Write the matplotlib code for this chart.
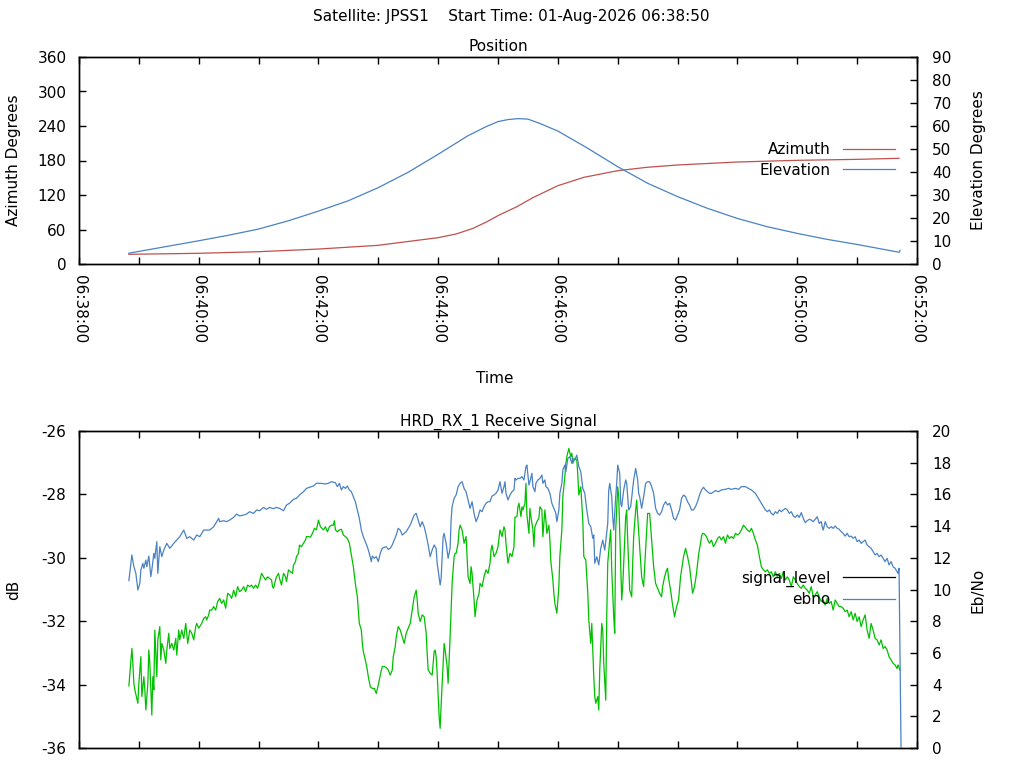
import matplotlib
matplotlib.use("Agg")
import matplotlib.pyplot as plt
from matplotlib.ticker import FixedLocator, FuncFormatter
from matplotlib.lines import Line2D

plt.rcParams['font.family'] = ['DejaVu Sans']
plt.rcParams['axes.unicode_minus'] = False

# ---------------- data (time = seconds after 06:38:00) ----------------
suptitle = "Satellite: JPSS1    Start Time: 01-Aug-2026 06:38:50"

az_t = [50, 120, 180, 240, 300, 360, 378, 395, 409, 421, 439, 455, 480, 506, 540,
        569, 600, 660, 720, 780, 822]
az_v = [16.9, 18.6, 21.4, 26.0, 32.5, 45.8, 52.2, 62.0, 73.6, 85.0, 99.7, 115.4,
        136.2, 150.7, 162.3, 168.1, 172.2, 177.4, 180.3, 182.0, 183.8]

el_t = [50, 120, 151, 180, 210, 240, 270, 300, 330, 360, 390, 408, 420, 430, 440,
        450, 462, 480, 510, 540, 570, 600, 630, 660, 690, 720, 750, 780, 822, 823]
el_v = [4.7, 10.1, 12.6, 15.2, 18.8, 23.0, 27.5, 33.2, 39.9, 47.7, 55.8, 59.7, 61.9,
        62.8, 63.2, 63.0, 61.1, 57.8, 50.3, 42.3, 35.1, 29.3, 24.2, 19.8, 16.2, 13.3,
        10.7, 8.5, 5.1, 5.9]

ebno_t = [50, 53, 55, 57, 59, 61, 62, 64, 65, 67, 68, 70, 72, 73, 75, 76, 78, 79, 81, 83,
          85, 88, 91, 95, 98, 101, 105, 108, 111, 115, 118, 121, 125, 128, 131, 135, 138,
          140, 141, 145, 148, 151, 155, 158, 161, 165, 168, 171, 175, 178, 181, 185, 188,
          191, 195, 198, 201, 205, 208, 211, 215, 218, 221, 225, 228, 231, 235, 238, 242,
          247, 250, 253, 257, 259, 261, 263, 265, 267, 269, 271, 273, 275, 277, 279, 281,
          283, 285, 287, 289, 291, 293, 294, 296, 298, 300, 302, 304, 306, 308, 310, 312,
          314, 316, 318, 320, 322, 324, 326, 328, 330, 332, 334, 336, 338, 340, 342, 344,
          346, 348, 350, 352, 354, 356, 358, 359, 360, 362, 363, 365, 366, 368, 370, 372,
          373, 374, 376, 378, 380, 382, 384, 386, 388, 390, 392, 394, 396, 398, 400, 402,
          404, 406, 408, 410, 412, 414, 416, 418, 420, 422, 424, 426, 427, 428, 430, 432,
          434, 436, 437, 438, 440, 442, 444, 446, 448, 449, 451, 452, 454, 455, 457, 458,
          460, 462, 464, 465, 467, 468, 470, 472, 474, 476, 478, 479, 481, 482, 484, 485,
          487, 488, 490, 492, 494, 495, 497, 499, 501, 503, 505, 507, 509, 511, 513, 515,
          516, 517, 519, 521, 523, 525, 527, 528, 530, 531, 532, 534, 535, 536, 538, 539,
          540, 542, 543, 544, 546, 548, 549, 551, 553, 555, 556, 558, 560, 561, 562, 564,
          566, 568, 570, 572, 574, 576, 578, 580, 582, 584, 586, 588, 590, 592, 594, 596,
          598, 600, 602, 604, 606, 608, 610, 612, 614, 616, 618, 620, 622, 624, 626, 628,
          630, 632, 634, 638, 641, 644, 648, 651, 654, 658, 661, 664, 668, 671, 674, 678,
          680, 682, 684, 686, 688, 690, 692, 694, 696, 698, 700, 702, 704, 706, 708, 710,
          712, 714, 716, 718, 720, 722, 724, 726, 728, 730, 732, 734, 736, 738, 740, 742,
          744, 745, 746, 748, 750, 752, 754, 756, 758, 760, 762, 764, 766, 768, 770, 772,
          774, 776, 778, 780, 782, 784, 786, 788, 790, 792, 794, 796, 798, 800, 802, 804,
          806, 808, 810, 812, 814, 816, 818, 820, 821, 822, 823, 824]
ebno_v = [10.56, 12.18, 11.44, 11.02, 9.97, 10.39, 11.23, 11.65, 11.34, 11.86, 11.44, 12.11,
          10.81, 11.23, 12.28, 11.97, 13.02, 11.02, 12.70, 12.07, 12.49, 12.91, 12.60, 12.91,
          13.12, 13.33, 13.75, 13.23, 13.33, 13.12, 13.44, 13.33, 13.75, 13.75, 13.75, 13.96,
          14.28, 14.49, 14.28, 14.34, 14.28, 14.38, 14.55, 14.76, 14.64, 14.70, 14.76, 14.91,
          14.80, 15.02, 14.97, 15.18, 15.06, 15.18, 15.10, 15.18, 15.12, 14.97, 15.33, 15.44,
          15.69, 15.75, 15.96, 16.17, 16.38, 16.45, 16.53, 16.70, 16.70,
          16.66, 16.70, 16.80, 16.74, 16.49, 16.70, 16.28, 16.49, 16.38, 16.53, 16.28, 16.17,
          15.86, 15.54, 15.02, 14.49, 13.75, 13.33, 13.02, 12.70, 12.28, 11.76, 12.11, 11.97,
          12.07, 11.76, 12.28, 12.60, 12.66, 12.70, 12.53, 12.60, 12.81, 13.12, 13.44, 13.86,
          13.75, 13.44, 13.54, 13.65, 13.86, 14.07, 14.38, 14.70, 14.80, 14.38, 13.96, 14.28,
          13.96, 13.44, 12.81, 12.07, 12.49, 12.81, 12.60, 11.65, 11.23, 10.28, 10.70, 13.33,
          13.54, 12.91, 11.97, 12.60, 14.38, 15.23, 15.75, 15.96, 16.49, 16.70, 16.80, 16.38,
          16.17, 15.65, 15.12, 15.54, 14.80, 14.28, 14.59, 15.02, 14.91, 15.23, 15.44, 15.54,
          15.54, 15.90, 15.96, 16.07, 16.28, 16.80, 16.07, 16.49, 16.80, 16.07, 15.65, 15.96,
          16.17, 16.28, 17.01,
          16.91, 17.01, 17.01, 17.12, 16.91, 17.75, 17.85, 16.59, 16.80, 17.33, 16.49, 16.17,
          16.70, 16.91, 17.01, 17.22, 16.70, 16.91, 16.49, 16.38, 16.07, 15.44, 15.12, 14.80,
          14.28, 15.02, 16.07, 16.70, 17.54, 17.85, 17.43, 18.27, 18.38, 17.96, 18.27, 18.17,
          18.48, 17.75, 17.43, 16.38, 16.07, 15.02, 14.17, 13.96, 13.23, 13.44, 11.65, 12.07,
          11.55, 12.60, 13.12, 12.49, 13.02, 14.17, 16.28, 16.70, 15.86, 14.59, 13.75, 15.86,
          16.70, 17.85, 17.33, 15.44, 15.23, 16.28, 16.91, 16.70, 15.02, 15.23, 16.38, 16.91,
          17.64, 16.91, 16.07, 15.86, 15.12, 15.86, 16.70, 16.80, 16.80, 16.49, 16.07, 15.12,
          14.80, 14.70, 14.91, 15.33, 15.54, 15.33, 15.44, 15.02, 14.49, 14.38, 14.70, 15.02,
          15.75, 15.96, 15.86, 15.54, 15.33, 15.02, 15.02, 15.23, 15.54, 15.96, 16.28, 16.45,
          16.28, 16.17, 16.07,
          16.07, 16.24, 16.17, 16.28, 16.32, 16.38, 16.32, 16.38, 16.32, 16.49, 16.49, 16.38,
          16.28, 16.07, 15.86, 15.65, 15.44, 15.23, 15.02, 14.91, 15.02, 14.80, 14.70, 14.91,
          14.80, 15.02, 14.91, 15.02, 15.12, 15.02, 14.80, 14.91, 14.64, 14.55, 14.70, 14.55,
          14.85, 14.49, 14.22, 14.34, 14.43, 14.38, 14.28, 14.43, 14.59, 14.17, 14.28, 13.96,
          13.75, 14.28, 13.96, 13.86, 13.96, 13.86, 14.01, 13.86, 13.80, 13.65, 13.54, 13.37,
          13.54, 13.33, 13.37, 13.23, 13.33, 13.02, 13.12, 12.91, 13.02, 13.12, 12.81, 12.70,
          12.60, 12.39, 12.18, 12.28, 12.07, 12.18, 11.97, 11.76, 11.97, 11.55, 11.76, 11.44,
          11.34, 11.12, 11.02, 11.34, 5.66, 0.0]

sig_t = [50, 53, 54, 55, 56, 59, 60, 61, 62, 63, 65, 66, 67, 69, 70, 71, 73, 74, 75, 76,
         78, 79, 81, 82, 83, 85, 87, 88, 90, 91, 93, 95, 97, 98, 100, 101, 103, 105, 107,
         108, 109, 111, 113, 115, 117, 118, 120, 121, 123, 125, 127, 128, 130, 131, 133,
         135, 137, 139, 141, 143, 145, 147, 149, 151, 153, 155, 157, 159, 161, 163, 165,
         167, 169, 171, 173, 175, 177, 179, 181, 183, 185, 187, 189, 191, 193, 194, 195,
         197, 198, 200, 201, 203, 205, 207, 208, 210, 212, 214, 215, 217, 218, 220, 221,
         223, 225, 227, 228, 230, 232, 234, 236, 238, 240, 242, 245, 247, 249, 251, 253,
         255, 256, 257, 259, 261, 263, 265, 267, 269, 271, 273, 275, 277, 279, 280, 281,
         283, 284, 285, 287, 289, 290, 292, 294, 296, 298, 300, 302, 304, 306, 308, 310,
         312, 314, 315, 317, 318, 320, 322, 324, 326, 328, 330, 332, 334, 336, 338, 339,
         340, 342, 344, 346, 348, 349, 350, 352, 354, 356, 357, 358, 359, 361, 362, 363,
         365, 366, 367, 369, 370, 372, 373, 374, 376, 377, 378, 380, 381, 382, 384, 386,
         388, 389, 390, 392, 393, 394, 396, 397, 399, 401, 402, 404, 406, 408, 410, 412,
         413, 414, 416, 418, 420, 422, 424, 426, 427, 428, 430, 432, 434, 436, 437, 439,
         440, 441, 443, 444, 445, 447, 448, 449, 451, 452, 453, 455, 456, 457, 459, 461,
         462, 464, 465, 467, 468, 469, 471, 472, 473, 475, 476, 477, 479, 481, 482, 484,
         485, 487, 488, 489, 491, 493, 494, 495, 497, 499, 500, 501, 503, 505, 506, 508,
         510, 511, 513, 514, 516, 517, 518, 520, 521, 522, 524, 525, 526, 528, 529, 530,
         532, 533, 534, 536, 537, 538, 540, 541, 542, 544, 545, 546, 548, 549, 550, 552,
         554, 555, 556, 558, 559, 560, 562, 564, 566, 567, 569, 570, 572, 573, 574, 576,
         578, 580, 582, 584, 585, 587, 589, 590, 591, 593, 595, 597, 599, 601, 603, 604,
         606, 608, 610, 612, 614, 615, 617, 619, 621, 623, 624, 625, 627, 629, 631, 632,
         634, 636, 638, 640, 642, 644, 646, 648, 650, 652, 654, 656, 658, 660, 662, 664,
         666, 668, 670, 672, 674, 676, 678, 680, 682, 684, 686, 688, 690, 692, 694, 696,
         698, 700, 702, 704, 706, 708, 710, 712, 714, 716, 718, 720, 722, 724, 726, 728,
         730, 732, 734, 736, 738, 740, 742, 744, 746, 748, 750, 752, 754, 756, 758, 760,
         762, 764, 766, 768, 770, 772, 774, 776, 778, 780, 782, 784, 786, 788, 790, 792,
         794, 796, 798, 800, 802, 804, 806, 808, 810, 812, 814, 816, 818, 820, 821, 823]
sig_v = [-34.04, -32.86, -33.33, -33.96, -34.17, -34.59, -33.96, -33.54, -33.12, -34.38,
         -33.75, -34.17, -34.80, -33.96, -32.91, -33.33, -34.96, -33.75, -34.17, -32.28,
         -33.75, -32.59, -32.17, -33.22, -32.70, -32.91, -33.33, -32.91, -32.38, -32.86,
         -32.70, -32.91, -32.54, -33.07, -32.28, -32.59, -32.28, -32.54, -32.07, -32.38,
         -32.70, -32.28, -32.38, -32.59, -32.17, -32.07, -32.22, -32.17, -32.07, -31.91,
         -31.86, -31.96, -31.80, -31.65, -31.65, -31.54, -31.65, -31.38, -31.28, -31.44,
         -31.33, -31.59, -31.12, -31.17, -31.28, -31.02, -31.23, -30.91, -31.07, -31.02,
         -30.91, -31.07, -30.86, -30.91, -30.86, -30.96, -30.86, -30.96, -30.75, -30.49,
         -30.60, -30.70, -30.60, -30.65, -30.70, -30.91, -30.96, -30.70, -30.60, -30.49,
         -30.65, -30.86, -30.49, -30.60, -30.75, -30.38, -30.44, -30.49, -30.23, -30.12,
         -29.96, -29.86, -29.60, -29.65, -29.54, -29.44, -29.33, -29.33, -29.35, -29.23,
         -29.07, -29.12, -28.81, -29.02, -29.12, -29.02, -29.18, -29.02, -28.97, -28.97,
         -28.83, -29.12, -29.18, -29.12, -29.10, -29.28, -29.33, -29.39, -29.54, -29.91,
         -30.28, -30.81, -31.23, -31.65, -32.07, -32.28, -32.70, -32.96, -33.22, -33.54,
         -33.75, -34.07, -34.12, -34.12, -34.28, -34.01, -33.70, -33.43, -33.43, -33.46,
         -33.54, -33.70, -33.54, -33.12, -32.80, -32.49, -32.17, -32.28, -32.49, -32.70,
         -32.38, -32.22, -32.07, -31.65, -31.23, -31.02, -31.33, -31.75, -32.01, -31.80,
         -31.86, -32.38, -33.01, -33.54, -33.64, -33.70, -32.96, -32.91, -33.12, -33.64,
         -35.01, -35.38, -34.64, -33.33, -32.70, -32.91, -33.43, -33.96, -32.49, -31.65,
         -30.81, -29.96, -29.86, -29.86, -29.54, -29.12, -28.97, -29.12, -29.54, -29.33,
         -29.96, -30.60, -30.81, -30.28, -30.49, -31.33, -31.86, -31.33, -31.12, -30.81,
         -30.91, -30.60, -30.38, -30.49, -30.17, -29.75, -29.60, -29.96, -29.86, -29.65,
         -29.12, -29.33, -29.02, -29.12, -29.54, -30.17, -29.86, -29.96, -29.65, -28.72,
         -28.70, -28.39, -28.28, -28.70, -28.39, -28.49, -28.28, -27.65, -28.65, -29.23,
         -28.44, -28.70, -29.12, -29.65, -29.02, -28.86, -28.75, -28.39, -28.49, -29.33,
         -28.49, -28.81, -29.23, -28.97, -29.44, -30.12, -30.70, -31.12, -31.44, -31.75,
         -30.91, -29.96, -29.12, -28.07, -27.44, -27.02, -26.81, -26.55, -26.81, -26.70,
         -27.02, -26.86, -26.91, -27.39, -28.02, -27.76, -28.81, -29.96, -30.07, -31.12,
         -31.96, -32.70, -32.07, -33.75, -34.38, -34.59, -34.38, -34.80, -33.54, -32.07,
         -32.28, -33.33, -34.49, -31.86, -30.17, -29.44, -29.12, -30.38, -31.86, -32.38,
         -29.12, -27.76, -28.07, -29.12, -31.33, -30.91, -30.17, -28.70, -28.49, -29.44,
         -31.02, -31.23, -30.17, -29.33, -28.49, -28.18, -28.70, -29.65, -30.60, -30.91,
         -30.28, -29.12, -28.60, -28.60, -29.02, -29.44, -30.28, -30.81, -30.96, -31.12,
         -31.23, -30.91, -30.60, -30.38, -30.33, -30.65, -31.02, -31.49, -31.86, -31.54,
         -31.33, -30.60, -30.38, -29.96, -29.70, -29.96, -30.28, -30.81, -31.12, -30.91,
         -30.49, -29.91, -29.54, -29.33, -29.23, -29.25, -29.33, -29.49, -29.54, -29.44,
         -29.65, -29.54, -29.39, -29.33, -29.44, -29.33, -29.54, -29.28, -29.39, -29.33,
         -29.39, -29.23, -29.28, -29.23, -29.12, -28.97, -29.04, -29.12, -29.18, -29.07,
         -29.23, -29.44, -29.60, -29.96, -30.28, -30.38, -30.44, -30.38, -30.49, -30.44,
         -30.60, -30.44, -30.60, -30.49, -30.65, -30.44, -30.70, -30.60, -30.70, -30.91,
         -30.60, -30.70, -30.81, -30.91, -30.96, -30.86, -30.96, -31.02, -31.12, -30.91,
         -31.23, -31.17, -31.07, -31.23, -31.38, -31.33, -31.49, -31.28, -31.44, -31.38,
         -31.65, -31.33, -31.44, -31.54, -31.54, -31.59, -31.70, -31.65, -31.86, -31.70,
         -31.96, -31.75, -32.01, -31.86, -32.17, -31.96, -31.80, -32.28, -32.54, -32.07,
         -32.28, -32.54, -32.59, -32.75, -32.59, -32.86, -32.80, -32.91, -33.12, -33.22,
         -33.33, -33.38, -33.49, -33.38, -33.54]

x_start, x_end = 0, 840           # 06:38:00 .. 06:52:00
az_ticks = [0, 60, 120, 180, 240, 300, 360]
el_ticks = list(range(0, 91, 10))
db_ticks = [-36, -34, -32, -30, -28, -26]
ebno_ticks = list(range(0, 21, 2))

RED = '#c0504d'
BLUE = '#4a82c3'
GREEN = '#00c000'
FS = 11

def tfmt(v, pos=None):
    s = int(round(v)) + 6 * 3600 + 38 * 60
    h, m, sec = s // 3600, (s % 3600) // 60, s % 60
    if m % 2:
        return ''
    return f"{h:02d}:{m:02d}:{sec:02d}"

fig = plt.figure(figsize=(10.24, 7.68), dpi=100)
W, H = 1024, 768

def rect(l, t, r, b):
    return [l / W, 1 - b / H, (r - l) / W, (b - t) / H]

def style(ax):
    ax.tick_params(direction='in', length=5, width=1, labelsize=FS, colors='black')
    for s in ax.spines.values():
        s.set_linewidth(1.0)

leg_kw = dict(bbox_transform=fig.transFigure, frameon=False, fontsize=FS, markerfirst=False,
              handlelength=3.4, handletextpad=0.8, borderpad=0, borderaxespad=0,
              labelspacing=0.35, loc='center right')

# ---------------- top: Position ----------------
ax1 = fig.add_axes(rect(79, 57, 917, 264))
ax1b = ax1.twinx()
l_az, = ax1.plot(az_t, az_v, color=RED, lw=0.9, label='Azimuth')
l_el, = ax1b.plot(el_t, el_v, color=BLUE, lw=0.9, label='Elevation')
ax1.set_xlim(x_start, x_end)
ax1.set_ylim(0, 360)
ax1b.set_ylim(0, 90)
ax1.yaxis.set_major_locator(FixedLocator(az_ticks))
ax1b.yaxis.set_major_locator(FixedLocator(el_ticks))
ax1.xaxis.set_major_locator(FixedLocator(list(range(0, 841, 60))))
ax1.xaxis.set_major_formatter(FuncFormatter(tfmt))
style(ax1); style(ax1b)
ax1.tick_params(axis='x', top=True, pad=8)
ax1.tick_params(axis='y', pad=9)
ax1b.tick_params(axis='y', pad=11)
for lab in ax1.get_xticklabels():
    lab.set_rotation(-90)
    lab.set_va('top')
    lab.set_ha('center')
ax1.set_title('Position', fontsize=FS, pad=4)
fig.text(14 / W, 1 - 160 / H, 'Azimuth Degrees', rotation=90, fontsize=FS,
         ha='center', va='center')
fig.text(978 / W, 1 - 160 / H, 'Elevation Degrees', rotation=90, fontsize=FS,
         ha='center', va='center')
fig.text(495 / W, 1 - 379 / H, 'Time', fontsize=FS, ha='center', va='center')
ax1b.legend(handles=[l_az, l_el], bbox_to_anchor=(895 / W, 1 - 160 / H), **leg_kw)

# ---------------- bottom: Receive Signal ----------------
ax2 = fig.add_axes(rect(79, 431, 917, 748))
ax2b = ax2.twinx()
ax2.plot(sig_t, sig_v, color=GREEN, lw=0.9)
ax2b.plot(ebno_t, ebno_v, color=BLUE, lw=0.9)
ax2.set_xlim(x_start, x_end)
ax2.set_ylim(-36, -26)
ax2b.set_ylim(0, 20)
ax2.yaxis.set_major_locator(FixedLocator(db_ticks))
ax2b.yaxis.set_major_locator(FixedLocator(ebno_ticks))
ax2.xaxis.set_major_locator(FixedLocator(list(range(0, 841, 60))))
style(ax2); style(ax2b)
ax2.tick_params(axis='x', top=True, labelbottom=False)
ax2.tick_params(axis='y', pad=9)
ax2b.tick_params(axis='y', pad=11)
ax2.set_title('HRD_RX_1 Receive Signal', fontsize=FS, pad=4)
fig.text(14 / W, 1 - 590 / H, 'dB', rotation=90, fontsize=FS, ha='center', va='center')
fig.text(978 / W, 1 - 590 / H, 'Eb/No', rotation=90, fontsize=FS, ha='center', va='center')
h_sig = Line2D([], [], color='black', lw=0.9, label='signal_level')
h_eb = Line2D([], [], color=BLUE, lw=0.9, label='ebno')
ax2b.legend(handles=[h_sig, h_eb], bbox_to_anchor=(895 / W, 1 - 589 / H), **leg_kw)

fig.text(511 / W, 1 - 17 / H, suptitle, fontsize=FS, ha='center', va='center')

fig.savefig('out.png', dpi=100)
